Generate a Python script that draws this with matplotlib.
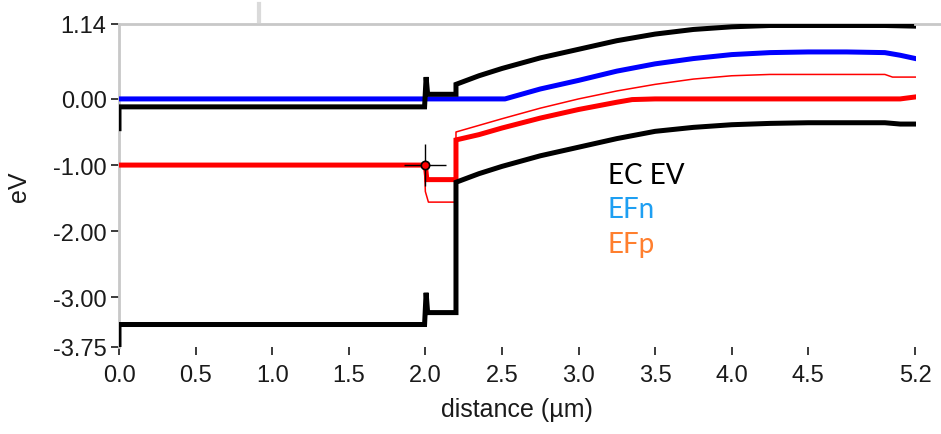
import matplotlib.pyplot as plt
from matplotlib.lines import Line2D

# band diagram data (distance in um, energy in eV)
ec_x = [0.0, 0.0, 1.995, 2.005, 2.015, 2.2, 2.2, 2.35, 2.5, 2.75, 3.0, 3.25, 3.5, 3.75, 4.0, 4.25, 4.5, 4.75, 5.0, 5.2]
ec = [-0.45, -0.12, -0.12, 0.33, 0.07, 0.07, 0.22, 0.35, 0.46, 0.62, 0.75, 0.88, 0.98, 1.05, 1.09, 1.11, 1.11, 1.11, 1.11, 1.10]

ev_x = [0.0, 0.0, 1.995, 2.005, 2.015, 2.2, 2.2, 2.35, 2.5, 2.75, 3.0, 3.25, 3.5, 3.75, 4.0, 4.25, 4.5, 4.75, 5.0, 5.1, 5.2]
ev = [-3.75, -3.41, -3.41, -2.93, -3.23, -3.23, -1.26, -1.13, -1.02, -0.86, -0.73, -0.60, -0.49, -0.43, -0.39, -0.37, -0.36, -0.36, -0.36, -0.38, -0.38]

efn_x = [0.0, 2.52, 2.75, 3.0, 3.25, 3.5, 3.75, 4.0, 4.25, 4.5, 4.75, 5.0, 5.1, 5.2]
efn = [0.0, 0.0, 0.15, 0.28, 0.42, 0.53, 0.61, 0.67, 0.70, 0.71, 0.71, 0.70, 0.66, 0.61]

efp_x = [0.0, 2.0, 2.01, 2.2, 2.2, 2.35, 2.5, 2.75, 3.0, 3.25, 3.35, 3.5, 4.0, 4.5, 5.0, 5.1, 5.2]
efp = [-1.0, -1.0, -1.22, -1.22, -0.62, -0.54, -0.44, -0.29, -0.16, -0.05, -0.01, 0.0, 0.0, 0.0, 0.0, 0.0, 0.03]

efp2_x = [0.0, 1.995, 2.0, 2.02, 2.2, 2.2, 2.35, 2.5, 2.75, 3.0, 3.25, 3.5, 3.75, 4.0, 4.25, 4.5, 5.0, 5.05, 5.2]
efp2 = [-1.0, -1.0, -1.4, -1.56, -1.56, -0.5, -0.4, -0.3, -0.14, 0.0, 0.12, 0.22, 0.30, 0.35, 0.37, 0.37, 0.37, 0.33, 0.33]

cursor = (2.0, -1.0)

yticks = [1.14, 0.0, -1.0, -2.0, -3.0, -3.75]
ytick_labels = ['1.14', '0.00', '-1.00', '-2.00', '-3.00', '-3.75']
xticks = [0.0, 0.5, 1.0, 1.5, 2.0, 2.5, 3.0, 3.5, 4.0, 4.5, 5.2]
xtick_labels = ['0.0', '0.5', '1.0', '1.5', '2.0', '2.5', '3.0', '3.5', '4.0', '4.5', '5.2']

plt.rcParams['font.family'] = ['Liberation Sans', 'DejaVu Sans']

W, H = 941, 435
fig = plt.figure(figsize=(W / 100, H / 100), dpi=100)
ax = fig.add_axes([119 / W, 1 - 348 / H, (915.5 - 119) / W, (348 - 24.5) / H])

ax.plot(efp2_x, efp2, color='red', lw=1.1, zorder=2)
ax.plot(efp_x, efp, color='red', lw=3.6, zorder=3, solid_joinstyle='miter')
ax.plot(efn_x, efn, color='blue', lw=3.6, zorder=3)
ax.plot(ec_x, ec, color='black', lw=3.6, zorder=4, solid_joinstyle='miter')
ax.plot(ev_x, ev, color='black', lw=3.6, zorder=4, solid_joinstyle='miter')

# cursor
ax.plot([cursor[0]], [cursor[1]], marker='+', ms=30, mew=1.0, color='black', zorder=5)
ax.plot([cursor[0]], [cursor[1]], marker='o', ms=6, mfc='red', mec='black', mew=1.2, zorder=6)

ax.set_xlim(0, 5.2)
ax.set_ylim(-3.75, 1.14)
ax.set_xticks(xticks)
ax.set_xticklabels(xtick_labels)
ax.set_yticks(yticks)
ax.set_yticklabels(ytick_labels)
ax.tick_params(axis='both', labelsize=17, colors='#1a1a1a', width=1.2, length=6, pad=3)
ax.tick_params(axis='x', pad=6)

for s in ['right', 'bottom']:
    ax.spines[s].set_visible(False)
for s in ['left', 'top']:
    ax.spines[s].set_color('#c8c8c8')
    ax.spines[s].set_linewidth(2)

ax.set_xlabel('distance (µm)', fontsize=18, color='#1a1a1a', labelpad=8)
ax.set_ylabel('eV', fontsize=18, color='#1a1a1a', labelpad=16)

# legend text
ax.text(3.19, -1.27, 'EC EV', fontsize=20, family='Lato', color='black', va='baseline')
ax.text(3.19, -1.79, 'EFn', fontsize=20, family='Lato', color='#1e9ff2', va='baseline')
ax.text(3.19, -2.32, 'EFp', fontsize=20, family='Lato', color='#ff7f2e', va='baseline')

# panel frame bits
fig.add_artist(Line2D([915 / W, 1], [1 - 24.5 / H] * 2, color='#c8c8c8', lw=2))
fig.add_artist(Line2D([259 / W] * 2, [1 - 5 / H, 1 - 22 / H], color='#dadada', lw=3))

fig.savefig('out.png', dpi=100)
